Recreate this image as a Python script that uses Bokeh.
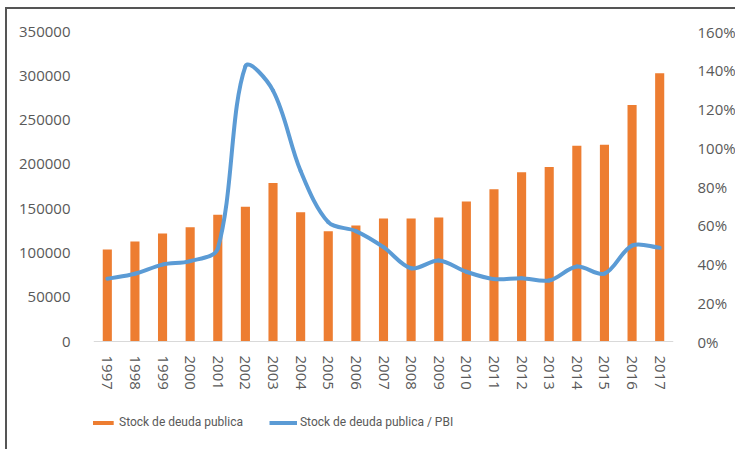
import math
import numpy as np
from bokeh.plotting import figure
from bokeh.models import (Range1d, LinearAxis, FixedTicker, NumeralTickFormatter,
                          Legend, LegendItem)
from bokeh.embed import file_html
from bokeh.resources import INLINE

# ---- data ----
years = [str(y) for y in range(1997, 2018)]
stock = [104000, 113000, 122000, 129000, 143000, 152000, 179000, 146000, 124500, 131000,
         139000, 139000, 140000, 158000, 172000, 191000, 197000, 221000, 222000, 267000, 303000]
ratio = [0.324, 0.350, 0.397, 0.415, 0.480, 1.420, 1.295, 0.880, 0.616, 0.570,
         0.487, 0.378, 0.418, 0.360, 0.322, 0.327, 0.315, 0.387, 0.350, 0.495, 0.484]
left_ticks = [0, 50000, 100000, 150000, 200000, 250000, 300000, 350000]
right_ticks = [0, 0.2, 0.4, 0.6, 0.8, 1.0, 1.2, 1.4, 1.6]

BAR = "#ED7D31"
LINE = "#5B9BD5"
TXT = "#595959"
FONT = "Open Sans"

n = len(years)
xs = [i + 0.5 for i in range(n)]

# layout: plotting area 310px tall above the zero line, 93px of room below it
PLOT_H, BELOW_H = 310, 93
lmax, rmax = left_ticks[-1], right_ticks[-1]
p = figure(frame_width=580, frame_height=PLOT_H + BELOW_H, output_backend="svg",
           toolbar_location=None,
           x_range=Range1d(0, n),
           y_range=Range1d(-lmax * BELOW_H / PLOT_H, lmax),
           min_border_left=86, min_border_right=61, min_border_top=22, min_border_bottom=15)
p.styles = {"margin-left": "5px", "margin-top": "7px",
            "border-left": "2px solid #555555", "border-top": "2px solid #555555"}
p.extra_y_ranges = {"r": Range1d(-rmax * BELOW_H / PLOT_H, rmax)}
p.outline_line_color = None
p.xgrid.visible = False
p.ygrid.visible = False

bars = p.vbar(x=xs, top=stock, width=0.33, fill_color=BAR, line_color=None)

# smooth line (Excel-like bezier smoothing through the data points)
sx, sy = 27.6, PLOT_H / rmax
def ctrl(i):
    pi = (xs[i], ratio[i])
    pp = (xs[i - 1], ratio[i - 1]) if i > 0 else pi
    pn = (xs[i + 1], ratio[i + 1]) if i < n - 1 else pi
    dp = math.hypot((pi[0] - pp[0]) * sx, (pi[1] - pp[1]) * sy)
    dn = math.hypot((pn[0] - pi[0]) * sx, (pn[1] - pi[1]) * sy)
    tot = dp + dn if dp + dn > 0 else 1
    tx, ty = pn[0] - pp[0], pn[1] - pp[1]
    cin = (pi[0] - tx / 3 * dp / tot, pi[1] - ty / 3 * dp / tot)
    cout = (pi[0] + tx / 3 * dn / tot, pi[1] + ty / 3 * dn / tot)
    return cin, cout

cs = [ctrl(i) for i in range(n)]
p.bezier(x0=xs[:-1], y0=ratio[:-1], x1=xs[1:], y1=ratio[1:],
         cx0=[cs[i][1][0] for i in range(n - 1)], cy0=[cs[i][1][1] for i in range(n - 1)],
         cx1=[cs[i + 1][0][0] for i in range(n - 1)], cy1=[cs[i + 1][0][1] for i in range(n - 1)],
         y_range_name="r", line_color=LINE, line_width=4, line_cap="round")
leg_line = p.line(x=[float("nan")], y=[float("nan")], y_range_name="r",
                  line_color=LINE, line_width=4)

# axes
xa = p.xaxis[0]
xa.fixed_location = 0
xa.ticker = FixedTicker(ticks=xs)
xa.major_label_overrides = {float(x): y for x, y in zip(xs, years)}
xa.major_label_orientation = "vertical"
xa.axis_line_color = "#D9D9D9"
xa.major_tick_line_color = None
xa.minor_tick_line_color = None
xa.major_label_standoff = 8

ya = p.yaxis[0]
ya.ticker = FixedTicker(ticks=left_ticks)
ya.formatter = NumeralTickFormatter(format="0")
ya.axis_line_color = None
ya.major_tick_line_color = None
ya.minor_tick_line_color = None
ya.major_label_standoff = 17

ra = LinearAxis(y_range_name="r", ticker=FixedTicker(ticks=right_ticks),
                formatter=NumeralTickFormatter(format="0%"))
ra.axis_line_color = None
ra.major_tick_line_color = None
ra.minor_tick_line_color = None
ra.major_label_standoff = 18
p.add_layout(ra, "right")

for ax in (xa, ya, ra):
    ax.major_label_text_font = FONT
    ax.major_label_text_font_size = "15px"
    ax.major_label_text_color = TXT

legend = Legend(items=[LegendItem(label="Stock de deuda publica", renderers=[bars]),
                       LegendItem(label="Stock de deuda publica / PBI", renderers=[leg_line])],
                orientation="horizontal", location=(-5, 2),
                glyph_width=28, glyph_height=5, label_height=20, label_standoff=3, spacing=26,
                padding=0, margin=0, border_line_color=None, background_fill_alpha=0,
                label_text_font="Roboto", label_text_font_size="12px",
                label_text_color=TXT)
p.add_layout(legend)

open("out.html", "w").write(file_html(p, INLINE))
